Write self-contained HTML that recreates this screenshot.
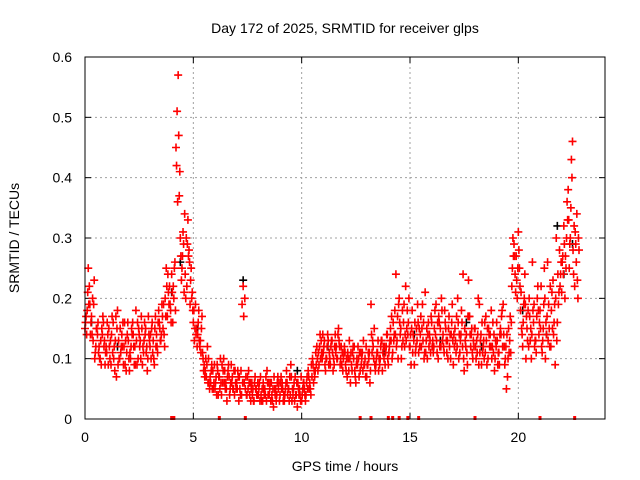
<!DOCTYPE html>
<html><head><meta charset="utf-8"><style>
body{margin:0;background:#fff}
svg{display:block;font-family:"Liberation Sans",sans-serif}
</style></head><body>
<svg id="chart" width="640" height="480">
<text x="345" y="33" text-anchor="middle" font-size="14">Day 172 of 2025, SRMTID for receiver glps</text>
<text x="345" y="471" text-anchor="middle" font-size="14">GPS time / hours</text>
<text transform="translate(19,238) rotate(-90)" text-anchor="middle" font-size="14">SRMTID / TECUs</text>
<g id="grid"></g><g id="ticks"></g><g id="marks"></g>
<rect x="85" y="57" width="520" height="362" fill="none" stroke="#000" stroke-width="1"/>
</svg>
<script>
const xTicks=[0,5,10,15,20];
const yTicks=[0,0.1,0.2,0.3,0.4,0.5,0.6];
const yTickLabels=["0","0.1","0.2","0.3","0.4","0.5","0.6"];
const seriesAStart=0, seriesAStep=0.1;
const seriesA=[.15,.18,.22,.17,.19,.12,.16,.10,.14,.13,
.11,.15,.09,.16,.13,.18,.10,.14,.12,.08,
.13,.10,.16,.12,.09,.14,.17,.11,.15,.10,
.12,.16,.09,.14,.18,.13,.15,.20,.17,.22,
.24,.20,.45,.57,.30,.27,.34,.22,.28,.25,
.16,.19,.14,.12,.17,.09,.07,.10,.06,.08,
.05,.09,.07,.04,.10,.06,.08,.05,.07,.04,
.06,.03,.08,.22,.05,.07,.04,.06,.03,.05,
.04,.07,.03,.05,.08,.04,.06,.02,.05,.07,
.04,.06,.03,.08,.05,.09,.04,.07,.02,.05,
.03,.06,.04,.08,.05,.10,.07,.12,.09,.13,
.11,.08,.14,.10,.13,.09,.12,.15,.10,.08,
.11,.07,.13,.09,.10,.06,.12,.08,.11,.09,
.07,.10,.19,.12,.08,.11,.09,.13,.10,.12,
.09,.15,.11,.18,.13,.20,.10,.16,.22,.14,
.12,.18,.09,.15,.11,.17,.13,.21,.10,.14,
.16,.12,.19,.10,.15,.13,.18,.11,.17,.14,
.09,.13,.20,.11,.16,.08,.14,.23,.12,.10,
.15,.11,.19,.09,.13,.17,.10,.14,.12,.08,
.16,.11,.14,.19,.10,.07,.13,.22,.29,.27,
.31,.18,.12,.24,.15,.20,.10,.16,.13,.22,
.18,.11,.25,.14,.19,.12,.23,.09,.16,.28,
.21,.32,.25,.38,.30,.46,.22,.34,.28];
const seriesBStart=0.05, seriesBStep=0.1;
const seriesB=[.17,.25,.14,.20,.10,.15,.12,.09,.16,.11,
.14,.10,.17,.12,.07,.13,.11,.16,.09,.14,
.08,.15,.12,.18,.10,.13,.09,.16,.12,.14,
.10,.13,.17,.11,.15,.19,.14,.25,.21,.18,
.16,.26,.51,.37,.23,.29,.20,.33,.19,.21,
.13,.15,.18,.11,.10,.08,.12,.05,.09,.06,
.07,.04,.10,.06,.08,.03,.07,.09,.05,.06,
.08,.05,.19,.06,.04,.08,.03,.05,.07,.04,
.06,.03,.05,.07,.04,.06,.03,.05,.04,.06,
.07,.03,.05,.04,.07,.03,.06,.04,.05,.03,
.05,.04,.07,.05,.09,.06,.11,.08,.14,.10,
.13,.10,.09,.12,.08,.14,.10,.12,.09,.11,
.08,.10,.06,.11,.08,.10,.07,.09,.13,.07,
.09,.06,.11,.15,.10,.08,.12,.11,.09,.14,
.12,.17,.13,.24,.10,.14,.18,.12,.15,.20,
.09,.14,.11,.19,.12,.15,.10,.13,.16,.11,
.13,.18,.11,.16,.20,.12,.15,.10,.14,.19,
.12,.17,.10,.14,.24,.13,.09,.17,.15,.12,
.10,.20,.13,.11,.16,.09,.14,.18,.11,.13,
.09,.14,.18,.12,.05,.15,.11,.30,.24,.20,
.25,.15,.19,.10,.18,.13,.26,.12,.17,.14,
.22,.15,.10,.26,.12,.21,.16,.30,.19,.24,
.27,.20,.36,.25,.43,.24,.29,.20];
const seriesCStart=0.025, seriesCStep=0.1;
const seriesC=[.16,.21,.19,.14,.23,.15,.11,.13,.17,.09,
.16,.12,.14,.10,.17,.09,.15,.12,.16,.11,
.10,.12,.14,.09,.16,.12,.15,.13,.11,.17,
.14,.11,.15,.12,.16,.14,.19,.17,.24,.19,
.21,.25,.42,.47,.27,.31,.24,.29,.26,.20,
.18,.14,.16,.13,.11,.07,.09,.06,.08,.05,
.06,.08,.05,.09,.06,.05,.09,.06,.05,.08,
.05,.07,.04,.17,.07,.05,.06,.04,.06,.04,
.05,.04,.06,.04,.06,.05,.04,.07,.03,.05,
.06,.05,.04,.06,.03,.07,.05,.04,.06,.04,
.04,.05,.06,.07,.04,.09,.08,.10,.12,.11,
.12,.10,.13,.09,.11,.12,.10,.13,.12,.10,
.09,.11,.10,.08,.12,.09,.10,.11,.08,.10,
.09,.11,.14,.10,.09,.13,.10,.08,.12,.14,
.11,.13,.16,.14,.17,.16,.12,.19,.13,.16,
.14,.11,.16,.13,.15,.12,.16,.11,.14,.13,
.12,.15,.13,.17,.12,.14,.16,.13,.12,.16,
.14,.11,.16,.13,.12,.15,.11,.17,.14,.13,
.12,.14,.11,.16,.10,.13,.15,.12,.16,.10,
.13,.09,.17,.14,.12,.10,.17,.25,.27,.23,
.28,.21,.16,.19,.13,.17,.14,.19,.11,.18,
.15,.13,.20,.17,.15,.18,.14,.20,.24,.22,
.26,.29,.30,.33,.35,.28,.31,.23];
const seriesDStart=0.075, seriesDStep=0.1;
const seriesD=[.14,.19,.16,.13,.11,.14,.10,.15,.12,.12,
.09,.13,.11,.08,.15,.10,.12,.09,.13,.16,
.11,.14,.09,.13,.15,.10,.12,.14,.08,.13,
.15,.10,.12,.16,.13,.17,.12,.22,.19,.16,
.22,.18,.36,.41,.25,.21,.30,.27,.23,.18,
.15,.12,.13,.15,.08,.10,.06,.07,.05,.09,
.04,.07,.06,.08,.05,.07,.04,.06,.08,.05,
.07,.04,.06,.20,.04,.06,.05,.03,.05,.06,
.03,.05,.04,.03,.06,.03,.05,.04,.06,.03,
.05,.04,.06,.05,.04,.05,.03,.06,.04,.07,
.06,.03,.05,.06,.07,.08,.09,.11,.10,.14,
.09,.12,.11,.13,.10,.11,.14,.09,.11,.12,
.10,.08,.11,.12,.07,.09,.11,.10,.09,.12,
.11,.08,.13,.09,.11,.10,.13,.12,.11,.10,
.13,.10,.14,.12,.19,.15,.13,.14,.18,.12,
.15,.13,.12,.16,.14,.19,.11,.15,.12,.17,
.11,.14,.16,.12,.18,.11,.13,.15,.10,.13,
.15,.12,.14,.18,.10,.12,.17,.14,.11,.15,
.13,.09,.14,.12,.11,.15,.12,.10,.14,.12,
.11,.15,.12,.09,.14,.11,.16,.27,.21,.25,
.22,.14,.20,.17,.12,.15,.18,.13,.20,.16,
.12,.19,.16,.13,.22,.15,.19,.13,.21,.26,
.24,.27,.33,.29,.40,.32,.26,.30];
const blackTimes=[0.3,1.5,4.0,4.4,5.2,7.3,9.8,11.2,13.8,15.2,16.4,17.6,18.3,20.2,21.3,21.8,22.1,22.5];
const blackValues=[0.16,0.12,0.21,0.26,0.15,0.23,0.08,0.12,0.11,0.14,0.13,0.16,0.12,0.18,0.14,0.32,0.24,0.29];
const zeroTimes=[4.0,4.1,6.2,7.4,12.7,13.2,14.0,14.2,14.5,14.9,15.4,18.0,21.0,22.6];

const NS="http://www.w3.org/2000/svg";
const X0=85,X1=605,Y0=419,Y1=57;
const xs=t=>X0+t/24*(X1-X0);
const ys=v=>Y0-v/0.6*(Y0-Y1);
const grid=document.getElementById('grid'),ticks=document.getElementById('ticks'),marks=document.getElementById('marks');
function mk(tag,attrs,parent){const e=document.createElementNS(NS,tag);for(const k in attrs)e.setAttribute(k,attrs[k]);parent.appendChild(e);return e;}
xTicks.forEach(t=>{
 const x=xs(t);
 if(t>0){const g=mk('line',{x1:x,x2:x,y1:Y0,y2:Y1,stroke:'#a0a0a0','stroke-dasharray':'2,3'},grid);
 
 }
 mk('line',{x1:x,x2:x,y1:Y0,y2:Y0-6,stroke:'#000'},ticks);
 mk('line',{x1:x,x2:x,y1:Y1,y2:Y1+6,stroke:'#000'},ticks);
 const l=mk('text',{x:x,y:Y0+23,'text-anchor':'middle','font-size':14},ticks);l.textContent=t;
 
 
});
yTicks.forEach((v,i)=>{
 const y=ys(v);
 if(v>0&&v<0.6){const g=mk('line',{x1:X0,x2:X1,y1:y,y2:y,stroke:'#a0a0a0','stroke-dasharray':'2,3'},grid);
 
 }
 mk('line',{x1:X0,x2:X0+6,y1:y,y2:y,stroke:'#000'},ticks);
 mk('line',{x1:X1,x2:X1-6,y1:y,y2:y,stroke:'#000'},ticks);
 const l=mk('text',{x:X0-13,y:y+5,'text-anchor':'end','font-size':14},ticks);l.textContent=yTickLabels[i];
 
 
});
function plus(t,v,color,name){
 const x=xs(t),y=ys(v);
 const p=mk('path',{d:`M${x-4},${y}h8M${x},${y-4}v8`,stroke:color,'stroke-width':1.6,fill:'none'},marks);
 
 
}
blackTimes.forEach((t,i)=>plus(t,blackValues[i],'#000','black-point'));
seriesA.forEach((v,i)=>plus(seriesAStart+i*seriesAStep,v,'#f00','srmtid-point-a'));
seriesB.forEach((v,i)=>plus(seriesBStart+i*seriesBStep,v,'#f00','srmtid-point-b'));
seriesC.forEach((v,i)=>plus(seriesCStart+i*seriesCStep,v,'#f00','srmtid-point-c'));
seriesD.forEach((v,i)=>plus(seriesDStart+i*seriesDStep,v,'#f00','srmtid-point-d'));
zeroTimes.forEach(t=>{const x=xs(t);
 const p=mk('rect',{x:x-1.5,y:Y0-3,width:3,height:4,fill:'#f00'},marks);
 
 });
</script>
</body></html>
